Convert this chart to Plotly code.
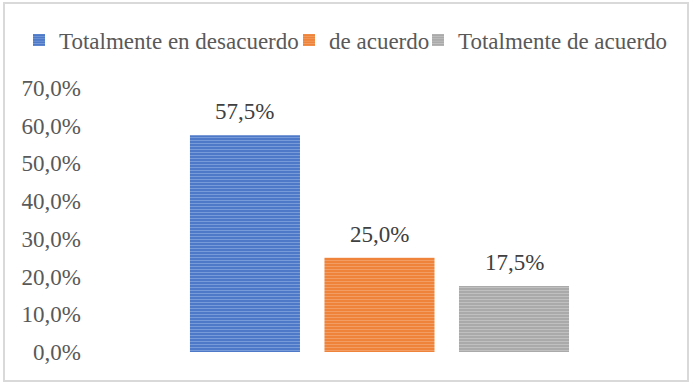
import plotly.graph_objects as go

categories = ["Totalmente en desacuerdo", "de acuerdo", "Totalmente de acuerdo"]
values = [57.5, 25.0, 17.5]
base_colors = ["#4472C4", "#ED7D31", "#A5A5A5"]
stripe_colors = ["#A9C1EE", "#F8BE95", "#DCDCDC"]
y_ticks = [0, 10, 20, 30, 40, 50, 60, 70]
y_tick_text = ["0,0%", "10,0%", "20,0%", "30,0%", "40,0%", "50,0%", "60,0%", "70,0%"]
legend_text_x = [60, 330, 459]  # left edge of each legend label (px)

W, H = 692, 384
L, R, T, B = 90, 12, 88, 32
pw, ph = W - L - R, H - T - B

FONT = "Liberation Serif"
GREY = "#595959"
FS = 23

fig = go.Figure()
legend_names = ["legend", "legend2", "legend3"]
for i, (c, v) in enumerate(zip(categories, values)):
    fig.add_trace(go.Bar(
        x=[i], y=[v], name=c, width=0.818, legend=legend_names[i],
        marker=dict(color=base_colors[i], line=dict(width=0),
                    pattern=dict(shape="-", fgcolor=stripe_colors[i], bgcolor=base_colors[i],
                                 size=3, solidity=0.45, fillmode="overlay")),
        hoverinfo="skip",
    ))
    fig.add_annotation(
        x=i, y=v, xref="x", yref="y", text=f"{v:.1f}%".replace(".", ","),
        showarrow=False, yanchor="bottom", yshift=9,
        font=dict(family=FONT, size=FS, color="#404040"),
    )

leg_common = dict(orientation="h", xref="container", yref="container",
                  xanchor="left", yanchor="middle", y=1 - 40 / H,
                  font=dict(family=FONT, size=FS, color=GREY),
                  itemclick=False, itemdoubleclick=False, itemwidth=30,
                  bgcolor="rgba(0,0,0,0)", borderwidth=0)
legends = {}
for i, name in enumerate(legend_names):
    legends[name] = dict(leg_common, x=(legend_text_x[i] - 41) / W)

fig.update_layout(
    width=W, height=H,
    margin=dict(l=L, r=R, t=T, b=B, autoexpand=False),
    paper_bgcolor="white", plot_bgcolor="white",
    separators=",.",
    barmode="overlay",
    font=dict(family=FONT, size=FS, color=GREY),
    showlegend=True,
    **legends,
    xaxis=dict(range=[-1.152, 3.234], showticklabels=False, showgrid=False,
               zeroline=False, showline=False, ticks=""),
    yaxis=dict(range=[0, 70], tickvals=y_ticks, ticktext=y_tick_text,
               showgrid=False, zeroline=False, showline=False, ticks="",
               ticklabelstandoff=8,
               tickfont=dict(family=FONT, size=FS, color=GREY)),
    shapes=[dict(type="rect", xref="paper", yref="paper",
                 x0=(4 - L) / pw, x1=(688 - L) / pw,
                 y0=-(381 - (T + ph)) / ph, y1=1 + (T - 3) / ph,
                 line=dict(color="#D9D9D9", width=2), fillcolor="rgba(0,0,0,0)", layer="below")],
)

fig.write_html("out.html", config={"displayModeBar": False},
               post_script="document.body.style.margin='0';document.body.style.overflow='hidden';")
